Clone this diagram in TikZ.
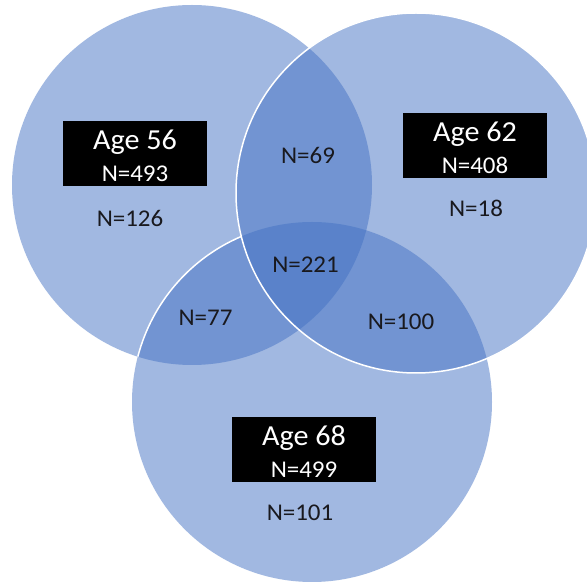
\documentclass[tikz,border=0pt]{standalone}
\usepackage{fontspec}
\setmainfont{Carlito}[FakeStretch=1.04]
\definecolor{venn}{RGB}{68,114,196}
\definecolor{lbl}{RGB}{25,25,30}
\begin{document}
\begin{tikzpicture}[x=1pt,y=1pt,
  vset/.style={fill=venn, fill opacity=0.5, draw=none},
  rim/.style={draw=white, line width=1.5pt},
  agebox/.style={fill=black, minimum width=144pt, minimum height=65pt, inner sep=0pt},
  title/.style={text=white, font=\fontsize{29}{30}\selectfont, anchor=base, inner sep=0pt},
  tot/.style={text=white, font=\fontsize{24}{25}\selectfont, anchor=base, inner sep=0pt},
  cnt/.style={text=lbl, font=\fontsize{24}{25}\selectfont, anchor=base, inner sep=0pt}]
\useasboundingbox (0,0) rectangle (587,584);
\fill[white] (0,0) rectangle (587,584);
\clip (0,0) rectangle (587,584);
\coordinate (c1) at (192,399);
\coordinate (c2) at (416,391);
\coordinate (c3) at (312,182);
\fill[vset] (c1) circle[radius=180];
\fill[vset] (c3) circle[radius=180];
\draw[rim] (c3) ++(165.4:180) arc[start angle=165.4, end angle=113.1, radius=180];
\fill[vset] (c2) circle[radius=180];
\draw[rim] (c2) circle[radius=180];
% boxes
\node[agebox] (b1) at (135,430.5) {};
\node[title] (t1) at (135,434.7) {Age 56};
\node[tot] (n1) at (135,402.5) {N=493};
\node[agebox] (b2) at (475,438.5) {};
\node[title] (t2) at (475,442.7) {Age 62};
\node[tot] (n2) at (475,410.5) {N=408};
\node[agebox] (b3) at (304,134.5) {};
\node[title] (t3) at (304,138.7) {Age 68};
\node[tot] (n3) at (304,106.5) {N=499};
% counts
\node[cnt] (a) at (130,357.3) {N=126};
\node[cnt] (b) at (476,367.3) {N=18};
\node[cnt] (ab) at (308,420.7) {N=69};
\node[cnt] (abc) at (305.5,311.3) {N=221};
\node[cnt] (ac) at (205.5,258) {N=77};
\node[cnt] (bc) at (401,254.7) {N=100};
\node[cnt] (c) at (300,63) {N=101};
\end{tikzpicture}
\end{document}
